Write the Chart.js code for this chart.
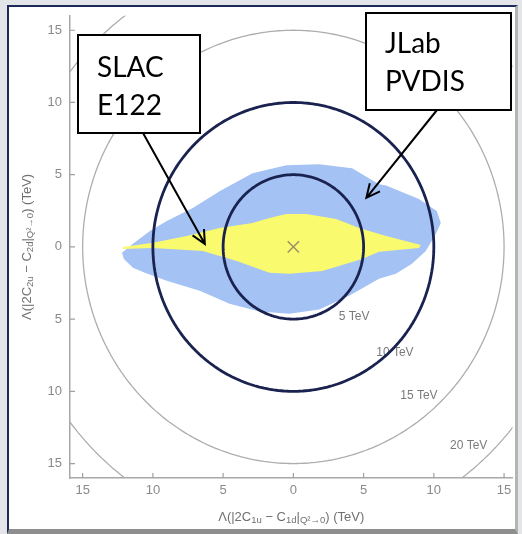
<!DOCTYPE html>
<html>
<head>
<meta charset="utf-8">
<script src="https://cdn.jsdelivr.net/npm/chart.js@4.4.0/dist/chart.umd.min.js"></script>
<style>
    html, body { margin: 0; padding: 0; background: #e3e5e8; }
    #frame {
        position: absolute; left: 7px; top: 5px; width: 506px; height: 522px; background: #fff;
        border-left: 2px solid #1d2a58; border-top: 2px solid #1d2a58;
        border-right: 3px solid #b4b4b4; border-bottom: 5px solid #8e8e8e;
    }
    #chart { position: absolute; left: 0; top: 0; }
</style>
</head>
<body>
<div id="frame"></div>
<canvas id="chart" width="522" height="534"></canvas>
<script>
// contour radii (TeV) and their labels
const radii = [5, 10, 15, 20];
const radiusLabels = ['5 TeV', '10 TeV', '15 TeV', '20 TeV'];
// dark circles
const boundRadii = [5, 10];

// JLab PVDIS region (blue), outline going round
const pvdisX = [-12.2, -11.42, -10.21, -9.01, -7.16, -5.25, -2.91, -0.5, 1.84, 4.18, 6.1, 6.6, 8.94, 10.21, 10.5,
    10.14, 9.43, 8.44, 7.3, 6.1, 3.97, 1.84, -0.28, -2.41, -4.54, -6.67, -9.01, -10.57, -11.42, -12.06];
const pvdisY = [-0.41, 0.21, 1.1, 1.79, 2.69, 3.86, 5.1, 5.66, 5.72, 5.45, 4.34, 4.25, 3.31, 2.48, 1.66,
    0.9, -0.28, -1.17, -1.86, -2.21, -3.38, -4.34, -4.62, -4.48, -3.93, -3.03, -2.34, -1.79, -1.45, -0.83];

// SLAC E122 region (yellow)
const e122X = [-12.13, -10.0, -7.59, -5.25, -2.91, -1.7, -0.5, 0.92, 3.05, 4.68, 6.6, 9.08,
    8.94, 6.1, 4.89, 2.06, -0.28, -1.7, -4.04, -6.45, -10.0, -12.13];
const e122Y = [0, 0.28, 0.76, 1.31, 1.66, 2.0, 2.28, 2.28, 1.93, 1.31, 0.76, 0.14,
    -0.07, -0.34, -0.83, -1.66, -1.86, -1.79, -0.97, -0.28, -0.07, -0.14];

// central value
const centerX = [0];
const centerY = [0];

function circle(r) {
    const pts = [];
    for (let a = 0; a <= 360; a += 2) {
        const t = a * Math.PI / 180;
        pts.push({ x: r * Math.cos(t), y: r * Math.sin(t) });
    }
    return pts;
}

function polygon(xs, ys) {
    const pts = xs.map((x, i) => ({ x: x, y: ys[i] }));
    pts.push(pts[0]);
    return pts;
}

const datasets = [];
radii.forEach(r => datasets.push({
    data: circle(r), borderColor: '#adadad', borderWidth: 1.3, pointRadius: 0, fill: false,
    tension: 0.001, order: 10
}));
datasets.push({
    data: polygon(pvdisX, pvdisY), borderWidth: 0, borderColor: 'rgba(0,0,0,0)',
    backgroundColor: '#a4c2f4', fill: 'shape', pointRadius: 0, order: 8
});
datasets.push({
    data: polygon(e122X, e122Y), borderWidth: 0, borderColor: 'rgba(0,0,0,0)',
    backgroundColor: '#fafa6e', fill: 'shape', pointRadius: 0, order: 7
});
boundRadii.forEach(r => datasets.push({
    data: circle(r), borderColor: '#1a2350', borderWidth: 2.8, pointRadius: 0, fill: false,
    tension: 0.001, order: 5
}));
datasets.push({
    data: centerX.map((x, i) => ({ x: x, y: centerY[i] })), showLine: false,
    pointStyle: 'crossRot', pointRadius: 8, borderColor: '#9a9168', borderWidth: 1.5, order: 1
});

// where the contour labels sit (data coords)
const labelSpots = [[4.33, -4.83], [7.23, -7.31], [8.94, -10.28], [12.48, -13.79]];

// callout boxes (pixels) pointing at data coords
const callouts = [
    { lines: ['SLAC', 'E122'], box: [78, 35, 200, 133], textX: 97, base: 77, from: [143, 133], tip: [-6.3, 0.2] },
    { lines: ['JLab', 'PVDIS'], box: [366, 13, 511, 110], textX: 385, base: 53, from: [437, 110], tip: [5.2, 3.4] }
];

const xTitle = [['Λ(|2C'], ['1u', 1], [' − C'], ['1d', 1], ['|'], ['Q²→0', 1], [') (TeV)']];
const yTitle = [['Λ(|2C'], ['2u', 1], [' − C'], ['2d', 1], ['|'], ['Q²→0', 1], [') (TeV)']];

function richText(ctx, parts, cx, cy) {
    const big = '13px "Liberation Sans", Arial, sans-serif';
    const small = '9.5px "Liberation Sans", Arial, sans-serif';
    let w = 0;
    parts.forEach(p => { ctx.font = p[1] ? small : big; w += ctx.measureText(p[0]).width; });
    let x = cx - w / 2;
    ctx.textAlign = 'left';
    ctx.textBaseline = 'middle';
    parts.forEach(p => {
        ctx.font = p[1] ? small : big;
        ctx.fillText(p[0], x, p[1] ? cy + 3.5 : cy);
        x += ctx.measureText(p[0]).width;
    });
}

function arrow(ctx, x1, y1, x2, y2) {
    ctx.beginPath();
    ctx.moveTo(x1, y1);
    ctx.lineTo(x2, y2);
    const a = Math.atan2(y2 - y1, x2 - x1);
    const len = 15, spread = 0.45;
    ctx.moveTo(x2 - len * Math.cos(a - spread), y2 - len * Math.sin(a - spread));
    ctx.lineTo(x2, y2);
    ctx.lineTo(x2 - len * Math.cos(a + spread), y2 - len * Math.sin(a + spread));
    ctx.stroke();
}

const overlay = {
    id: 'overlay',
    beforeDatasetsDraw(chart) {
        const ctx = chart.ctx, xs = chart.scales.x, ys = chart.scales.y;
        ctx.save();
        ctx.fillStyle = '#7a7a7a';
        ctx.font = '12px "Liberation Sans", Arial, sans-serif';
        ctx.textAlign = 'center';
        ctx.textBaseline = 'middle';
        radiusLabels.forEach((t, i) => {
            ctx.fillText(t, xs.getPixelForValue(labelSpots[i][0]), ys.getPixelForValue(labelSpots[i][1]));
        });
        ctx.restore();
    },
    afterDraw(chart) {
        const ctx = chart.ctx, xs = chart.scales.x, ys = chart.scales.y;
        const area = chart.chartArea;
        ctx.save();
        // inward tick marks
        ctx.strokeStyle = '#a0a0a0';
        ctx.lineWidth = 1.2;
        ctx.beginPath();
        xs.ticks.forEach(t => {
            const p = xs.getPixelForValue(t.value);
            ctx.moveTo(p, area.bottom);
            ctx.lineTo(p, area.bottom - 5);
        });
        ys.ticks.forEach(t => {
            const p = ys.getPixelForValue(t.value);
            ctx.moveTo(area.left, p);
            ctx.lineTo(area.left + 5, p);
        });
        ctx.stroke();

        // axis titles
        ctx.fillStyle = '#707070';
        richText(ctx, xTitle, (area.left + area.right) / 2, 517);
        ctx.save();
        ctx.translate(27, ys.getPixelForValue(0));
        ctx.rotate(-Math.PI / 2);
        richText(ctx, yTitle, 0, 0);
        ctx.restore();

        // callouts
        callouts.forEach(c => {
            const [l, t, r, b] = c.box;
            ctx.fillStyle = '#fff';
            ctx.fillRect(l, t, r - l, b - t);
            ctx.strokeStyle = '#000';
            ctx.lineWidth = 2;
            ctx.strokeRect(l, t, r - l, b - t);
            ctx.fillStyle = '#000';
            ctx.font = '28px Lato, "Open Sans", sans-serif';
            ctx.textAlign = 'left';
            ctx.textBaseline = 'alphabetic';
            c.lines.forEach((s, i) => ctx.fillText(s, c.textX, c.base + i * 38));
            arrow(ctx, c.from[0], c.from[1], xs.getPixelForValue(c.tip[0]), ys.getPixelForValue(c.tip[1]));
        });
        ctx.restore();
    }
};

const axisFont = { family: '"Liberation Sans", Arial, sans-serif', size: 13 };

new Chart(document.getElementById('chart'), {
    type: 'line',
    data: { datasets: datasets },
    options: {
        responsive: false,
        animation: false,
        devicePixelRatio: 1,
        layout: { padding: { top: 14, right: 8, left: 0, bottom: 0 } },
        elements: { line: { tension: 0 } },
        plugins: { legend: { display: false }, tooltip: { enabled: false } },
        scales: {
            x: {
                type: 'linear', min: -15.9, max: 15.6,
                afterFit: s => { s.height = 56; },
                ticks: {
                    stepSize: 5, includeBounds: false, maxRotation: 0, padding: 5,
                    color: '#8a8a8a', font: axisFont, callback: v => Math.abs(v)
                },
                grid: { drawOnChartArea: false, drawTicks: false },
                border: { color: '#a8a8a8', width: 1.5 }
            },
            y: {
                type: 'linear', min: -16, max: 16,
                afterFit: s => { s.width = 70; },
                ticks: {
                    stepSize: 5, includeBounds: false, padding: 8,
                    color: '#8a8a8a', font: axisFont, callback: v => Math.abs(v)
                },
                grid: { drawOnChartArea: false, drawTicks: false },
                border: { color: '#a8a8a8', width: 1.5 }
            }
        }
    },
    plugins: [overlay]
});
</script>
</body>
</html>
